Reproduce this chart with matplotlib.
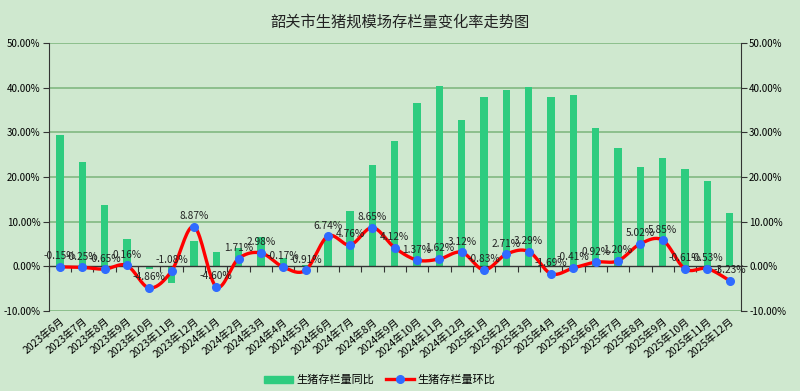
import numpy as np
import matplotlib.pyplot as plt
from matplotlib.ticker import FuncFormatter
from matplotlib.lines import Line2D
from matplotlib.patches import Patch

plt.rcParams['font.family'] = ['Noto Sans CJK SC', 'DejaVu Sans']

months = ['2023年6月', '2023年7月', '2023年8月', '2023年9月', '2023年10月', '2023年11月', '2023年12月',
          '2024年1月', '2024年2月', '2024年3月', '2024年4月', '2024年5月', '2024年6月', '2024年7月',
          '2024年8月', '2024年9月', '2024年10月', '2024年11月', '2024年12月',
          '2025年1月', '2025年2月', '2025年3月', '2025年4月', '2025年5月', '2025年6月', '2025年7月',
          '2025年8月', '2025年9月', '2025年10月', '2025年11月', '2025年12月']
# 同比 (bars)
yoy = [29.4, 23.3, 13.8, 6.1, -0.7, -3.7, 5.6, 3.2, 4.0, 6.5, 1.9, 0.3, 6.6, 12.3,
       22.7, 28.1, 36.5, 40.4, 32.8, 38.0, 39.5, 40.1, 37.8, 38.4, 30.9, 26.4,
       22.2, 24.3, 21.8, 19.1, 11.9]
# 环比 (line), from data labels
mom = [-0.15, -0.25, -0.65, 0.16, -4.86, -1.08, 8.87, -4.60, 1.71, 2.98, -0.17, -0.91, 6.74, 4.76,
       8.65, 4.12, 1.37, 1.62, 3.12, -0.83, 2.71, 3.29, -1.69, -0.41, 0.92, 1.20,
       5.02, 5.85, -0.61, -0.53, -3.23]

bg = '#cfe8cf'
grid_c = '#82b882'

def smooth(xs, ys, n=20):
    # Catmull-Rom style bezier like Excel's smoothed line
    p = np.column_stack([xs, ys]).astype(float)
    p = np.vstack([p[0], p, p[-1]])
    out = []
    t = np.linspace(0, 1, n)[:, None]
    for i in range(1, len(p) - 2):
        p0, p1, p2, p3 = p[i - 1], p[i], p[i + 1], p[i + 2]
        c1 = p1 + (p2 - p0) / 6
        c2 = p2 - (p3 - p1) / 6
        seg = (1 - t) ** 3 * p1 + 3 * (1 - t) ** 2 * t * c1 + 3 * (1 - t) * t ** 2 * c2 + t ** 3 * p2
        out.append(seg if i == 1 else seg[1:])
    out = np.vstack(out)
    return out[:, 0], out[:, 1]

fig = plt.figure(figsize=(8, 3.91), dpi=100, facecolor=bg)
ax = fig.add_axes([0.061, 0.205, 0.865, 0.685])
ax.set_facecolor(bg)
x = np.arange(len(months))

ax.bar(x, yoy, width=0.33, color='#2ecc7f', zorder=2, label='生猪存栏量同比')
ax.set_ylim(-10, 50)
ax.set_xlim(-0.5, len(months) - 0.5)
ax.set_yticks(np.arange(-10, 51, 10))
pct = FuncFormatter(lambda v, _: f'{v:.2f}%')
ax.yaxis.set_major_formatter(pct)
ax.tick_params(axis='y', labelsize=7, length=4, color='#333333', pad=2)
ax.set_xticks(x)
ax.set_xticklabels(months, rotation=40, ha='right', rotation_mode='anchor', fontsize=7.5)
ax.tick_params(axis='x', length=0, pad=4)
for v in range(10, 51, 10):
    ax.axhline(v, color=grid_c, lw=1.2, zorder=1)
ax.axhline(-10, color=grid_c, lw=1.2, zorder=1)
ax.spines['top'].set_visible(False)
ax.spines['bottom'].set_visible(False)
ax.spines['left'].set_color('#333333')
ax.spines['right'].set_visible(False)

# category axis drawn at 0
ax.axhline(0, color='#333333', lw=1, zorder=3)
sec = ax.secondary_xaxis(1 / 6)
sec.set_xticks(np.arange(-0.5, len(months), 1))
sec.set_xticklabels([])
sec.tick_params(direction='out', length=4, color='#333333')
sec.spines['bottom'].set_visible(False)

ax2 = ax.twinx()
ax2.set_ylim(-10, 50)
ax2.set_yticks(np.arange(-10, 51, 10))
ax2.yaxis.set_major_formatter(pct)
ax2.tick_params(axis='y', labelsize=7, length=4, color='#333333', pad=2)
for s in ['top', 'bottom', 'left']:
    ax2.spines[s].set_visible(False)
ax2.spines['right'].set_color('#333333')

sx, sy = smooth(x, mom)
ax2.plot(sx, sy, color='#ff0000', lw=2.4, zorder=4)
ax2.plot(x, mom, 'o', color='#2f6bff', ms=5.5, zorder=5)
for xi, v in zip(x, mom):
    ax2.annotate(f'{v:.2f}%', (xi, v), xytext=(0, 4), textcoords='offset points',
                 ha='center', va='bottom', fontsize=7.3, color='#222222', zorder=6)

handles = [Patch(color='#2ecc7f', label='生猪存栏量同比'),
           Line2D([], [], color='#ff0000', lw=2.4, marker='o', mfc='#2f6bff', mec='#2f6bff', ms=5.5,
                  label='生猪存栏量环比')]
fig.legend(handles=handles, loc='center', bbox_to_anchor=(0.475, 0.028), ncol=2, frameon=False,
           fontsize=8, handlelength=2.6, columnspacing=1.0, handletextpad=0.3)

fig.suptitle('韶关市生猪规模场存栏量变化率走势图', y=0.965, fontsize=11, color='#222222')
fig.savefig('out.png', dpi=100, facecolor=bg)
